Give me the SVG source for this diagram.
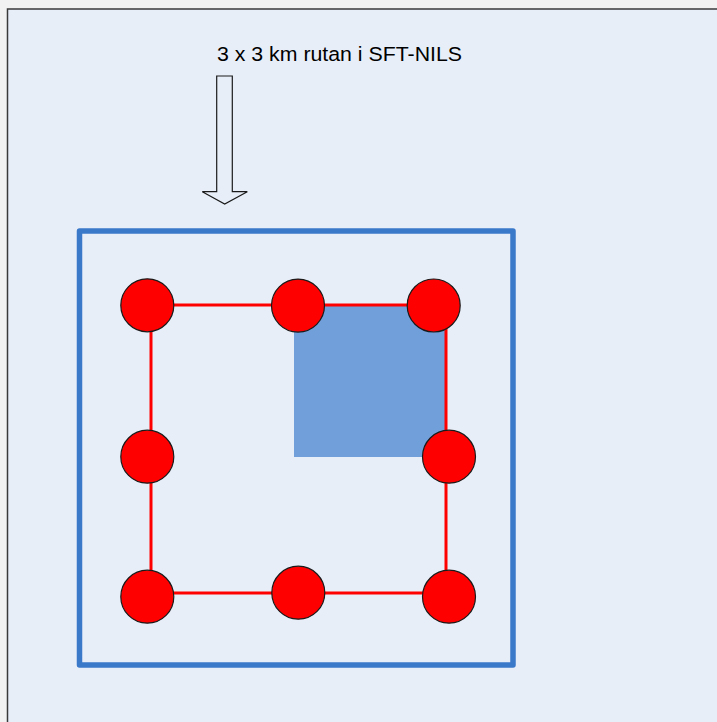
<svg xmlns="http://www.w3.org/2000/svg" width="717" height="722" viewBox="0 0 717 722">
<style>
.node{fill:#ff0000;stroke:#1a1a1a;stroke-width:1.2}
.link{stroke:#ff0000;stroke-width:3;fill:none}
.label{font-family:"Liberation Sans",Arial,sans-serif;font-size:20.5px;fill:#000}
</style>
<rect x="0" y="0" width="717" height="722" fill="#f2f2f2"/>
<rect id="panel" x="7.5" y="9" width="720" height="730" fill="#e8eef8" stroke="#3a3a3a" stroke-width="1.5"/>
<g id="title"><text class="label" x="217" y="61" textLength="245" lengthAdjust="spacingAndGlyphs">3 x 3 km rutan i SFT-NILS</text></g>
<g id="arrow"><path d="M216.7,76 L232.3,76 L232.3,191.7 L247.3,191.7 L224.7,204 L202.3,191.7 L216.7,191.7 Z" fill="#e8eef8" stroke="#1a1a1a" stroke-width="1.2"/></g>
<g id="frame"><rect x="79.5" y="231" width="433.5" height="434" fill="none" stroke="#3a78c9" stroke-width="5.5" stroke-linejoin="round"/></g>
<g id="square"><rect x="294" y="304.5" width="152" height="152.5" fill="#719fda"/></g>
<g id="connectors">
<polyline class="link" points="151,305 446,305 446,593 151,593 151,305"/>
</g>
<g id="n1"><circle class="node" cx="147.3" cy="305.3" r="26.5"/></g>
<g id="n2"><circle class="node" cx="298" cy="305.6" r="26.5"/></g>
<g id="n3"><circle class="node" cx="433.7" cy="305.5" r="26.5"/></g>
<g id="n4"><circle class="node" cx="147.3" cy="456.7" r="26.5"/></g>
<g id="n5"><circle class="node" cx="449" cy="456.7" r="26.5"/></g>
<g id="n6"><circle class="node" cx="147.3" cy="596.7" r="26.5"/></g>
<g id="n7"><circle class="node" cx="298.3" cy="592.7" r="26.5"/></g>
<g id="n8"><circle class="node" cx="449" cy="596.7" r="26.5"/></g>
</svg>
